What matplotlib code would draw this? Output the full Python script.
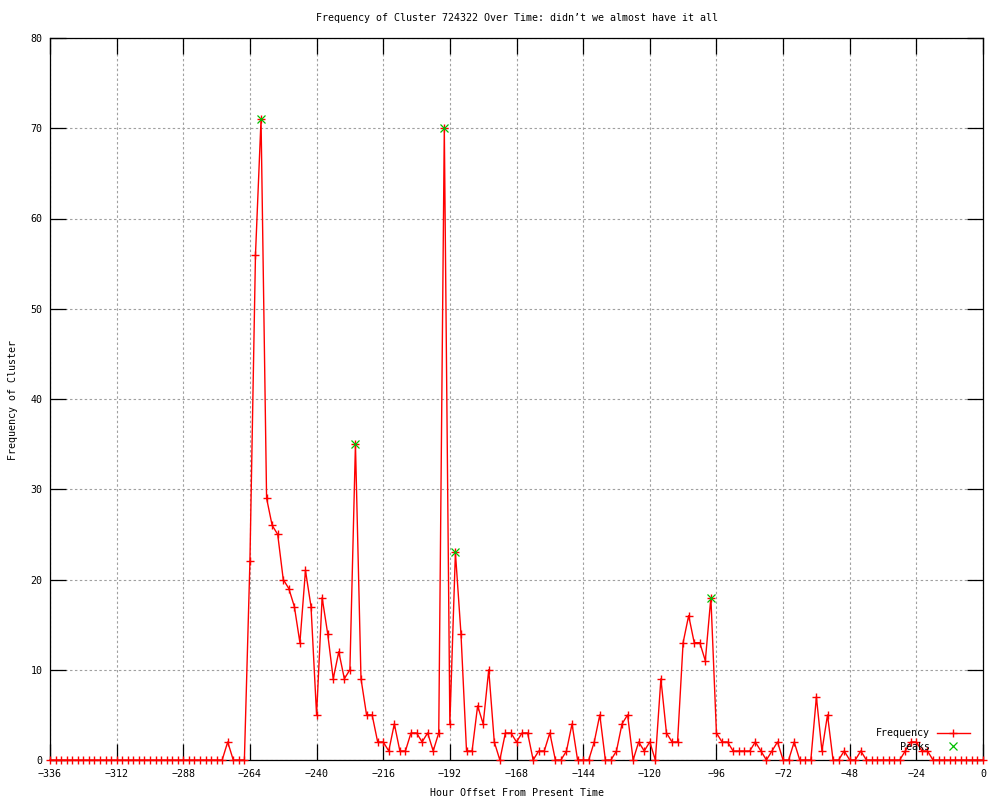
import numpy as np
import matplotlib.pyplot as plt
from matplotlib.lines import Line2D

# hours before now, one sample every 2 hours
hours = np.arange(-336, 1, 2)

# cluster frequency per sample (12 per row)
frequency = [
    0, 0, 0, 0, 0, 0, 0, 0, 0, 0, 0, 0,          # -336 .. -314
    0, 0, 0, 0, 0, 0, 0, 0, 0, 0, 0, 0,          # -312 .. -290
    0, 0, 0, 0, 0, 0, 0, 0, 2, 0, 0, 0,          # -288 .. -266
    22, 56, 71, 29, 26, 25, 20, 19, 17, 13, 21, 17,  # -264 .. -242
    5, 18, 14, 9, 12, 9, 10, 35, 9, 5, 5, 2,     # -240 .. -218
    2, 1, 4, 1, 1, 3, 3, 2, 3, 1, 3, 70,         # -216 .. -194
    4, 23, 14, 1, 1, 6, 4, 10, 2, 0, 3, 3,       # -192 .. -170
    2, 3, 3, 0, 1, 1, 3, 0, 0, 1, 4, 0,          # -168 .. -146
    0, 0, 2, 5, 0, 0, 1, 4, 5, 0, 2, 1,          # -144 .. -122
    2, 0, 9, 3, 2, 2, 13, 16, 13, 13, 11, 18,    # -120 .. -98
    3, 2, 2, 1, 1, 1, 1, 2, 1, 0, 1, 2,          # -96 .. -74
    0, 0, 2, 0, 0, 0, 7, 1, 5, 0, 0, 1,          # -72 .. -50
    0, 0, 1, 0, 0, 0, 0, 0, 0, 0, 1, 2,          # -48 .. -26
    2, 1, 1, 0, 0, 0, 0, 0, 0, 0, 0, 0,          # -24 .. -2
    0,                                           # 0
]

# detected peaks
peak_hours = [-260, -226, -194, -190, -98]
peak_values = [71, 35, 70, 23, 18]

x_ticks = list(range(-336, 1, 24))
y_ticks = list(range(0, 81, 10))

title = "Frequency of Cluster 724322 Over Time: didn\u2019t we almost have it all"

font = 'DejaVu Sans Mono'
fs = 7.2

fig = plt.figure(figsize=(10, 8), dpi=100)
ax = fig.add_axes([0.05, 0.05, 0.933, 0.9025])

ax.plot(hours, frequency, color='#ff0000', linewidth=1.0, marker='+',
        markersize=6, markeredgewidth=1.0, clip_on=False, zorder=3)
ax.plot(peak_hours, peak_values, linestyle='none', color='#00c000', marker='x',
        markersize=5.5, markeredgewidth=0.9, zorder=4)

ax.set_xlim(-336, 0)
ax.set_ylim(0, 80)
ax.set_xticks(x_ticks)
ax.set_yticks(y_ticks)
ax.tick_params(direction='in', length=11.5, width=0.9, top=True, right=True,
               labelsize=fs, colors='black')
ax.tick_params(axis='y', pad=5.5)
ax.tick_params(axis='x', pad=6.5)
for lab in ax.get_xticklabels() + ax.get_yticklabels():
    lab.set_family(font)
for sp in ax.spines.values():
    sp.set_linewidth(0.9)

ax.grid(True, color='#a0a0a0', linestyle=(0, (2.2, 2.2)), linewidth=0.8)
ax.set_axisbelow(True)

ax.set_title(title, fontsize=fs, family=font, y=1.0277, va='center', pad=0)
ax.set_xlabel('Hour Offset From Present Time', fontsize=fs, family=font)
ax.xaxis.set_label_coords(0.5, -0.0457)
ax.xaxis.label.set_va('center')
ax.set_ylabel('Frequency of Cluster', fontsize=fs, family=font)
ax.yaxis.set_label_coords(-0.0397, 0.4986)
ax.yaxis.label.set_va('center')

handles = [
    Line2D([], [], color='#ff0000', linewidth=1.0, marker='+', markersize=6,
           markeredgewidth=1.0),
    Line2D([], [], color='#00c000', linestyle='none', marker='x', markersize=5.5,
           markeredgewidth=0.9),
]
leg = ax.legend(handles, ['Frequency', 'Peaks'], loc='lower right',
                bbox_to_anchor=(0.986, 0.0115), frameon=False, markerfirst=False,
                numpoints=1, handlelength=3.3, handletextpad=0.7,
                labelspacing=0.35, borderpad=0, borderaxespad=0,
                prop={'family': font, 'size': fs})
for t in leg.get_texts():
    t.set_ha('right')

plt.savefig('out.png', dpi=100)
